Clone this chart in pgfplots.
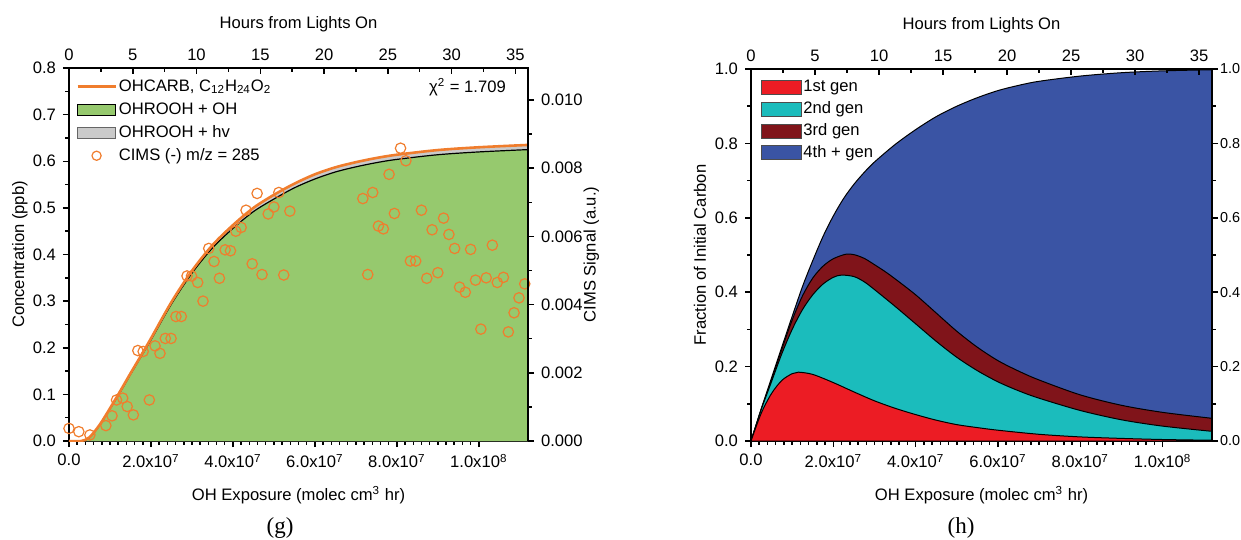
\documentclass[border=0pt]{standalone}
\usepackage{pgfplots}
\pgfplotsset{compat=1.18}
\usepackage{fontspec}
\setmainfont{Liberation Sans}
\newfontfamily\seriffont{Liberation Serif}

\definecolor{orangeC}{RGB}{240,125,45}
\definecolor{greenC}{RGB}{150,201,110}
\definecolor{grayC}{RGB}{202,202,202}
\definecolor{redC}{RGB}{236,28,36}
\definecolor{cyanC}{RGB}{27,188,188}
\definecolor{dredC}{RGB}{128,20,26}
\definecolor{blueC}{RGB}{58,84,164}

\pgfplotsset{
  base/.style={
    scale only axis,
    font=\fontsize{8.3}{10}\selectfont,
    axis line style={line width=0.75pt},
    tick style={black, line width=0.75pt},
    major tick length=3pt,
    minor tick length=1.8pt,
    xmin=0, xmax=11.2,
    anchor=south west,
    scaled ticks=false,
  },
  areaimgL/.style={legend image code/.code={\draw[##1] (0pt,-2.7pt) rectangle (19pt,2.7pt);}},
  areaimgR/.style={legend image code/.code={\draw[##1] (0pt,-3.5pt) rectangle (20pt,3.5pt);}},
  lineimg/.style={legend image code/.code={\draw[##1] (0pt,0pt) -- (19pt,0pt);}},
  dotimg/.style={legend image code/.code={\draw[##1] plot[mark=o] coordinates {(9.5pt,0pt)};}},
  expticks/.style={
    xtick={0,2,4,6,8,10},
    xticklabels={0.0,2.0x10\textsuperscript{7},4.0x10\textsuperscript{7},6.0x10\textsuperscript{7},8.0x10\textsuperscript{7},1.0x10\textsuperscript{8}},
    minor x tick num=9,
    xlabel={OH Exposure (molec cm\textsuperscript{3} hr)},
    xlabel style={at={(axis description cs:0.5,-0.145)}, anchor=center},
  },
  hourticks/.style={
    xmin=0, xmax=36,
    axis x line*=top, hide y axis,
    xtick={0,5,10,15,20,25,30,35},
    xticklabels={0,5,10,15,20,25,30,35},
    minor x tick num=1,
    tick align=inside,
    xlabel={Hours from Lights On},
    xlabel style={at={(axis description cs:0.5,1.118)}, anchor=center},
  },
}

\pgfplotstableread{
x y
0 0
0.3 0.0
0.5 0.008
0.75 0.035
1.0 0.07
1.25 0.107
1.5 0.145
1.75 0.182
2.0 0.22
2.5 0.298
3.0 0.365
3.5 0.42
4.0 0.463
4.5 0.50
5.0 0.528
5.5 0.552
6.0 0.572
6.5 0.587
7.0 0.598
7.5 0.607
8.0 0.614
9.0 0.624
10.0 0.630
11.2 0.635
}\orangeT

\pgfplotstableread{
x y
0 0
0.3 0.0
0.5 0.007
0.75 0.034
1.0 0.069
1.25 0.105
1.5 0.143
1.75 0.180
2.0 0.217
2.5 0.294
3.0 0.360
3.5 0.414
4.0 0.456
4.5 0.492
5.0 0.519
5.5 0.543
6.0 0.562
6.5 0.577
7.0 0.588
7.5 0.597
8.0 0.604
9.0 0.614
10.0 0.620
11.2 0.625
}\greenT

\pgfplotstableread{
x y
0.00 0.027
0.24 0.020
0.51 0.013
0.90 0.033
1.05 0.054
1.16 0.088
1.31 0.092
1.42 0.074
1.57 0.056
1.68 0.194
1.81 0.192
1.96 0.088
2.10 0.204
2.22 0.188
2.35 0.220
2.49 0.220
2.61 0.267
2.74 0.267
2.88 0.354
2.99 0.354
3.14 0.340
3.27 0.300
3.41 0.413
3.54 0.385
3.67 0.349
3.81 0.410
3.94 0.408
4.07 0.450
4.20 0.458
4.32 0.495
4.47 0.380
4.59 0.531
4.71 0.357
4.86 0.487
5.00 0.502
5.12 0.533
5.24 0.356
5.39 0.493
7.17 0.520
7.29 0.357
7.41 0.533
7.55 0.461
7.67 0.455
7.81 0.572
7.94 0.488
8.09 0.628
8.22 0.601
8.33 0.386
8.46 0.386
8.60 0.495
8.73 0.349
8.86 0.453
9.00 0.361
9.14 0.478
9.27 0.443
9.41 0.413
9.53 0.330
9.67 0.319
9.80 0.411
9.92 0.345
10.05 0.240
10.18 0.350
10.33 0.420
10.45 0.340
10.60 0.351
10.72 0.234
10.86 0.275
10.98 0.307
11.12 0.337
}\cimsT

\pgfplotstableread{
x y
0 0
0.25 0.087
0.5 0.170
0.75 0.253
1.0 0.335
1.25 0.415
1.5 0.485
1.75 0.550
2.0 0.605
2.25 0.652
2.5 0.690
2.75 0.722
3.0 0.750
3.5 0.797
4.0 0.837
4.5 0.872
5.0 0.900
5.5 0.923
6.0 0.942
6.5 0.956
7.0 0.967
8.0 0.981
9.0 0.990
10.0 0.995
11.2 0.998
}\totalT

\pgfplotstableread{
x y
0 0
0.25 0.086
0.5 0.165
0.75 0.247
1.0 0.325
1.25 0.390
1.5 0.438
1.75 0.470
2.0 0.490
2.3 0.502
2.5 0.501
2.75 0.491
3.0 0.474
3.25 0.456
3.5 0.436
4.0 0.393
4.5 0.344
5.0 0.295
5.5 0.252
6.0 0.216
6.5 0.188
7.0 0.164
8.0 0.124
9.0 0.096
10.0 0.077
11.2 0.061
}\thirdT

\pgfplotstableread{
x y
0 0
0.25 0.085
0.5 0.160
0.75 0.235
1.0 0.300
1.25 0.353
1.5 0.393
1.75 0.422
2.0 0.440
2.2 0.446
2.5 0.442
2.75 0.428
3.0 0.407
3.5 0.362
4.0 0.315
4.5 0.268
5.0 0.225
5.5 0.189
6.0 0.159
6.5 0.135
7.0 0.115
8.0 0.082
9.0 0.057
10.0 0.040
11.2 0.026
}\secondT

\pgfplotstableread{
x y
0 0
0.25 0.075
0.5 0.128
0.75 0.163
1.0 0.181
1.15 0.185
1.5 0.179
2.0 0.157
2.5 0.132
3.0 0.108
3.5 0.088
4.0 0.071
4.5 0.056
5.0 0.044
5.5 0.036
6.0 0.029
7.0 0.018
8.0 0.011
9.0 0.007
10.0 0.004
11.2 0.002
}\firstT

\begin{document}
\begin{tikzpicture}
\path[use as bounding box] (0pt,0pt) rectangle (620.5pt,-270pt);

% ---------------- left panel (g) ----------------
\begin{axis}[base, at={(34.5pt,-220.5pt)}, width=229.5pt, height=186.5pt,
  expticks,
  ymin=0, ymax=0.8,
  ytick={0,0.1,0.2,0.3,0.4,0.5,0.6,0.7,0.8},
  yticklabels={0.0,0.1,0.2,0.3,0.4,0.5,0.6,0.7,0.8},
  minor y tick num=1,
  xtick pos=bottom, ytick pos=left, tick align=outside,
  ylabel={Concentration (ppb)},
  ylabel style={at={(axis description cs:-0.107,0.5)}, anchor=center},
  legend cell align=left,
  legend style={at={(axis description cs:0.015,0.979)}, anchor=north west,
    draw=none, fill=none, inner sep=0pt, row sep=1pt,
    nodes={inner sep=1pt, text height=6.5pt, text depth=2pt},
    /tikz/every even column/.append style={column sep=3pt}},
]
\addlegendimage{lineimg, orangeC, line width=1.3pt}
\addlegendentry{OHCARB, C\textsubscript{12}H\textsubscript{24}O\textsubscript{2}}
\addlegendimage{areaimgL, fill=greenC, draw=black, line width=0.5pt}
\addlegendentry{OHROOH + OH}
\addlegendimage{areaimgL, fill=grayC, draw=black!60, line width=0.5pt}
\addlegendentry{OHROOH + hv}
\addlegendimage{dotimg, orangeC, mark size=2.3pt, line width=0.6pt}
\addlegendentry{CIMS (-) m/z = 285}

\addplot[forget plot, smooth, fill=grayC, draw=none] table[x=x,y=y] {\orangeT} \closedcycle;
\addplot[forget plot, smooth, fill=greenC, draw=none] table[x=x,y=y] {\greenT} \closedcycle;
\addplot[forget plot, smooth, black, line width=0.6pt] table[x=x,y=y] {\greenT};
\addplot[forget plot, smooth, orangeC, line width=1.3pt] table[x=x,y=y] {\orangeT};
\addplot[forget plot, only marks, mark=o, mark size=2.6pt, orangeC, line width=0.6pt] table[x=x,y=y] {\cimsT};
\node[anchor=east] at (rel axis cs:0.967,0.949) {χ\textsuperscript{2} = 1.709};
\end{axis}

\begin{axis}[base, at={(34.5pt,-220.5pt)}, width=229.5pt, height=186.5pt, hourticks]
\addplot[draw=none] coordinates {(0,0)};
\end{axis}

\begin{axis}[base, at={(34.5pt,-220.5pt)}, width=229.5pt, height=186.5pt,
  hide x axis, axis y line*=right,
  ymin=0, ymax=0.01094,
  ytick={0,0.002,0.004,0.006,0.008,0.010},
  yticklabels={0.000,0.002,0.004,0.006,0.008,0.010},
  minor y tick num=1, tick align=outside,
  ylabel={CIMS Signal (a.u.)},
  ylabel style={at={(axis description cs:1.138,0.5)}, anchor=center},
]
\addplot[draw=none] coordinates {(0,0)};
\end{axis}

% ---------------- right panel (h) ----------------
\begin{axis}[base, at={(375.5pt,-220.5pt)}, width=230.5pt, height=186pt,
  expticks,
  ymin=0, ymax=1,
  ytick={0,0.2,0.4,0.6,0.8,1.0},
  yticklabels={0.0,0.2,0.4,0.6,0.8,1.0},
  minor y tick num=1,
  xtick pos=bottom, ytick pos=left, tick align=outside,
  ylabel={Fraction of Initial Carbon},
  ylabel style={at={(axis description cs:-0.1106,0.5)}, anchor=center},
  legend cell align=left,
  legend style={at={(axis description cs:0.02,0.98)}, anchor=north west,
    draw=none, fill=none, inner sep=0pt, row sep=0.4pt,
    nodes={inner sep=1pt, text height=6.5pt, text depth=2pt},
    /tikz/every even column/.append style={column sep=0.5pt}},
]
\addlegendimage{areaimgR, fill=redC, draw=black!70, line width=0.4pt}
\addlegendentry{1st gen}
\addlegendimage{areaimgR, fill=cyanC, draw=black!70, line width=0.4pt}
\addlegendentry{2nd gen}
\addlegendimage{areaimgR, fill=dredC, draw=black!70, line width=0.4pt}
\addlegendentry{3rd gen}
\addlegendimage{areaimgR, fill=blueC, draw=black!70, line width=0.4pt}
\addlegendentry{4th + gen}

\addplot[forget plot, smooth, fill=blueC, draw=black, line width=0.5pt] table[x=x,y=y] {\totalT} \closedcycle;
\addplot[forget plot, smooth, fill=dredC, draw=black, line width=0.5pt] table[x=x,y=y] {\thirdT} \closedcycle;
\addplot[forget plot, smooth, fill=cyanC, draw=black, line width=0.5pt] table[x=x,y=y] {\secondT} \closedcycle;
\addplot[forget plot, smooth, fill=redC, draw=black, line width=0.5pt] table[x=x,y=y] {\firstT} \closedcycle;
\end{axis}

\begin{axis}[base, at={(375.5pt,-220.5pt)}, width=230.5pt, height=186pt, hourticks]
\addplot[draw=none] coordinates {(0,0)};
\end{axis}

\begin{axis}[base, at={(375.5pt,-220.5pt)}, width=230.5pt, height=186pt,
  hide x axis, axis y line*=right,
  ymin=0, ymax=1,
  ytick={0,0.2,0.4,0.6,0.8,1.0},
  yticklabels={0.0,0.2,0.4,0.6,0.8,1.0},
  yticklabel style={xshift=-2.5pt, font=\fontsize{7.2}{9}\selectfont},
  minor y tick num=1, tick align=outside,
]
\addplot[draw=none] coordinates {(0,0)};
\end{axis}

\node[font=\seriffont\fontsize{11.5}{13}\selectfont] at (140pt,-264pt) {(g)};
\node[font=\seriffont\fontsize{11.5}{13}\selectfont] at (480.5pt,-264pt) {(h)};
\end{tikzpicture}
\end{document}
